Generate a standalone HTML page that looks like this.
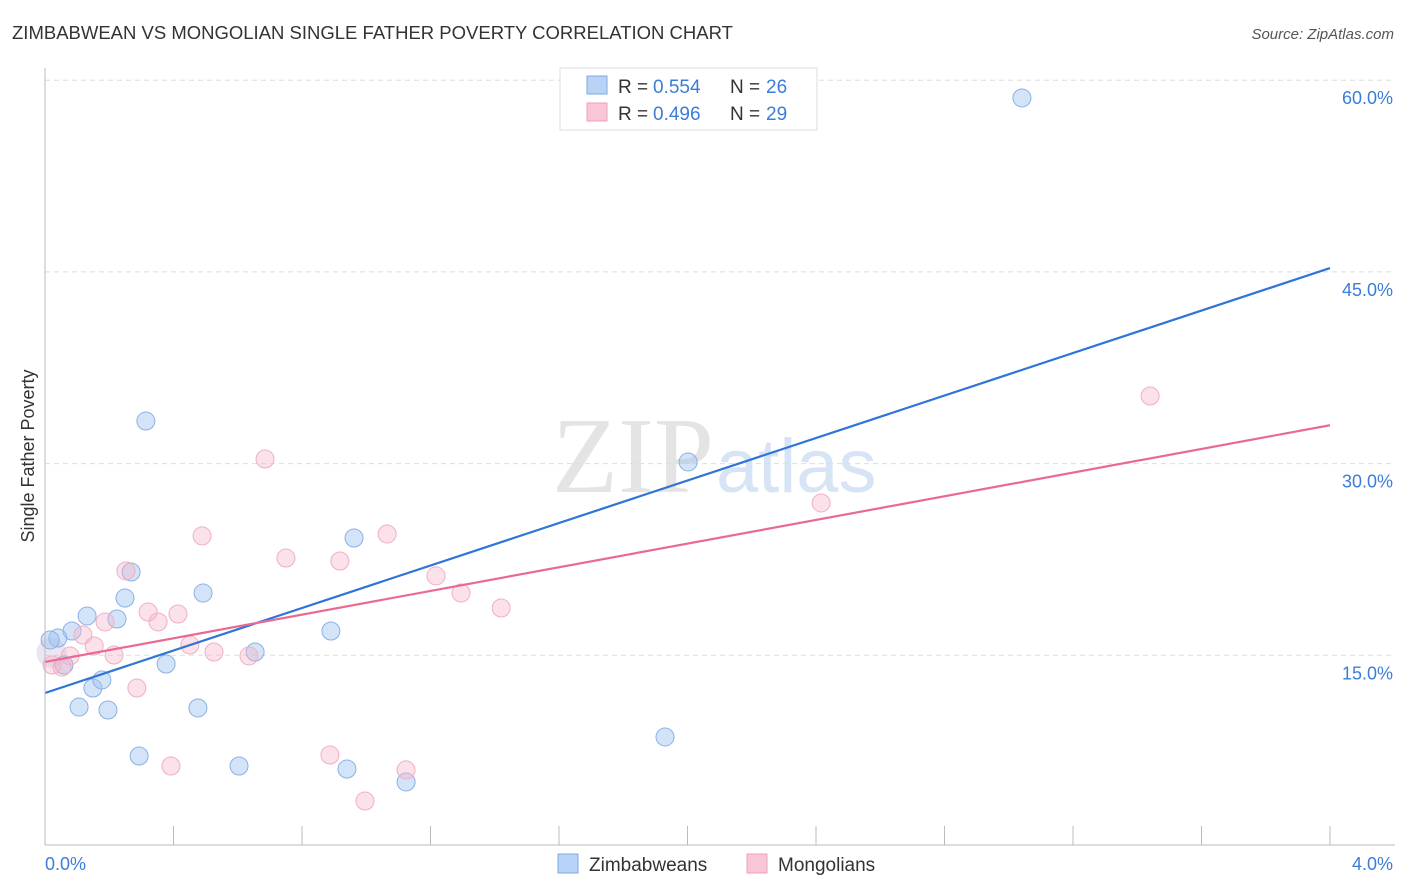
<!DOCTYPE html>
<html><head><meta charset="utf-8"><style>
body{margin:0;background:#fff;font-family:"Liberation Sans",sans-serif;}
svg{display:block}
</style></head><body>
<svg id="c" width="1406" height="892">
<text x="12" y="39" font-size="18.5" fill="#333">ZIMBABWEAN VS MONGOLIAN SINGLE FATHER POVERTY CORRELATION CHART</text>
<text x="1394" y="39" font-size="15" fill="#555" font-style="italic" text-anchor="end">Source: ZipAtlas.com</text>
<text x="714" y="492" font-size="108" fill="#e4e4e4" text-anchor="end" font-family="Liberation Serif,serif">ZIP</text>
<text x="716" y="492" font-size="76" fill="#d6e4f5">atlas</text>
<text transform="translate(34,456) rotate(-90)" font-size="18" fill="#333" text-anchor="middle">Single Father Poverty</text>
<g id="grid"></g><g id="pts"></g><g id="lines"></g>
<line x1="45" y1="68" x2="45" y2="845" stroke="#bbb"/>
<line x1="45" y1="845" x2="1395" y2="845" stroke="#bbb"/>
<text x="45" y="870" font-size="18" fill="#3b7dd8">0.0%</text>
<text x="1393" y="870" font-size="18" fill="#3b7dd8" text-anchor="end">4.0%</text>
<g>
<rect x="560" y="68" width="257" height="62" fill="#fff" stroke="#ddd"/>
<rect x="587" y="76" width="20" height="18" fill="#b8d3f5" stroke="#7fa8e0"/>
<rect x="587" y="103" width="20" height="18" fill="#f9c6d6" stroke="#eea0b8"/>
<text x="618" y="93" font-size="19" fill="#333">R =</text>
<text x="653" y="93" font-size="19" fill="#3b7dd8">0.554</text>
<text x="730" y="93" font-size="19" fill="#333">N =</text>
<text x="766" y="93" font-size="19" fill="#3b7dd8">26</text>
<text x="618" y="120" font-size="19" fill="#333">R =</text>
<text x="653" y="120" font-size="19" fill="#3b7dd8">0.496</text>
<text x="730" y="120" font-size="19" fill="#333">N =</text>
<text x="766" y="120" font-size="19" fill="#3b7dd8">29</text>
</g>
<g>
<rect x="558" y="854" width="20" height="19" fill="#b8d3f5" stroke="#7fa8e0"/>
<text x="589" y="871" font-size="19" fill="#333">Zimbabweans</text>
<rect x="747" y="854" width="20" height="19" fill="#f9c6d6" stroke="#eea0b8"/>
<text x="778" y="871" font-size="19" fill="#333">Mongolians</text>
</g>
</svg>
<script>
const yTicks=[15,30,45,60];
const blueX=[3.041,0.314,2.002,0.962,0.268,0.492,0.249,0.131,0.224,0.084,0.890,0.040,0.016,0.654,0.059,0.377,0.149,0.177,0.106,0.196,0.476,0.293,0.604,0.940,1.124,1.930];
const blueY=[58.61,33.33,30.13,24.18,21.52,19.87,19.48,18.08,17.84,16.90,16.90,16.35,16.20,15.26,14.24,14.32,12.44,13.07,10.95,10.72,10.88,7.12,6.34,6.10,5.09,8.61];
const pinkX=[3.440,0.685,2.416,0.489,1.065,0.750,0.918,0.252,1.217,1.295,1.420,0.321,0.414,0.352,0.187,0.118,0.153,0.451,0.526,0.215,0.635,0.078,0.022,0.053,0.286,0.392,0.887,1.124,0.996];
const pinkY=[35.29,30.36,26.92,24.34,24.49,22.61,22.38,21.60,21.21,19.87,18.70,18.39,18.23,17.61,17.61,16.59,15.73,15.81,15.26,15.02,14.95,14.95,14.24,14.08,12.44,6.34,7.20,6.03,3.60];
const blueTrend=[12.05,45.3];
const pinkTrend=[14.48,33.0];
const xDomain=[0,4];
const NS='http://www.w3.org/2000/svg';
const sx=v=>45+(v-xDomain[0])/(xDomain[1]-xDomain[0])*1285;
const sy=v=>847-v*12.78;
function mk(t,a,p){const e=document.createElementNS(NS,t);for(const k in a)e.setAttribute(k,a[k]);p.appendChild(e);return e;}
const grid=document.getElementById('grid');
yTicks.forEach(t=>{
 const l=mk('line',{x1:45,x2:1395,y1:sy(t),y2:sy(t),stroke:'#ddd','stroke-dasharray':'5,4'},grid);
 
 
 const tx=mk('text',{x:1393,y:sy(t)+24,'font-size':18,fill:'#3b7dd8','text-anchor':'end'},grid);
 tx.textContent=t.toFixed(1)+'%';
 
 
});
for(let i=0;i<=10;i++){
 const l=mk('line',{x1:sx(i*0.4),x2:sx(i*0.4),y1:826,y2:845,stroke:'#bbb'},grid);
 
 
}
const pts=document.getElementById('pts');
const big=mk('circle',{cx:sx(0.02),cy:sy(15.2),r:15,fill:'rgba(200,180,220,0.35)',stroke:'none'},pts);


blueX.forEach((x,i)=>{
 const c=mk('circle',{cx:sx(x),cy:sy(blueY[i]),r:9,fill:'rgba(160,196,240,0.45)',stroke:'#8ab0e6','stroke-width':1},pts);
 
 
});
pinkX.forEach((x,i)=>{
 const c=mk('circle',{cx:sx(x),cy:sy(pinkY[i]),r:9,fill:'rgba(245,180,200,0.4)',stroke:'#f0afc3','stroke-width':1},pts);
 
 
});
const lines=document.getElementById('lines');
const bl=mk('line',{x1:sx(0),y1:sy(blueTrend[0]),x2:sx(4),y2:sy(blueTrend[1]),stroke:'#2f74d8','stroke-width':2.2},lines);


const pl=mk('line',{x1:sx(0),y1:sy(pinkTrend[0]),x2:sx(4),y2:sy(pinkTrend[1]),stroke:'#e86a93','stroke-width':2.2},lines);


</script>
</body></html>
